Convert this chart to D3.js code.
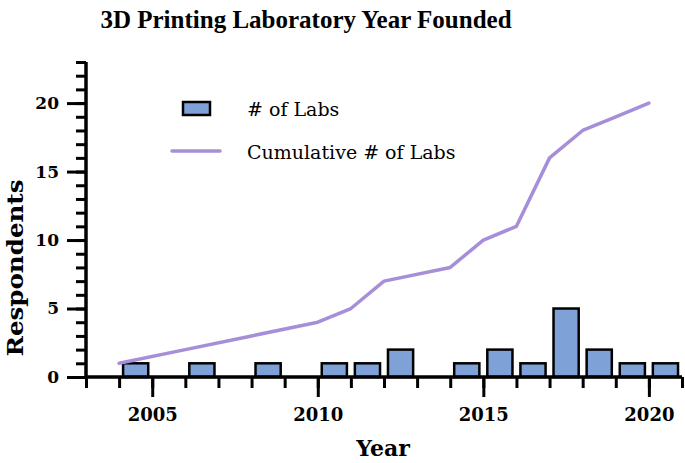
<!DOCTYPE html>
<html>
<head>
<meta charset="utf-8">
<script src="https://cdn.jsdelivr.net/npm/d3@7/dist/d3.min.js"></script>
<style>
  html, body { margin: 0; padding: 0; background: #fff; }
  svg { display: block; }
</style>
</head>
<body>
<svg id="chart" width="685" height="463"></svg>
<script>
// ---- data ----
const years = [2004, 2006, 2008, 2010, 2011, 2012, 2014, 2015, 2016, 2017, 2018, 2019, 2020];
const labs = [1, 1, 1, 1, 1, 2, 1, 2, 1, 5, 2, 1, 1];
const cumulative = [1, 2, 3, 4, 5, 7, 8, 10, 11, 16, 18, 19, 20];
const xTickLabels = [2005, 2010, 2015, 2020];
const yTickLabels = [0, 5, 10, 15, 20];
const title = "3D Printing Laboratory Year Founded";
const seriesNames = ["# of Labs", "Cumulative # of Labs"];

// ---- layout ----
const svg = d3.select("#chart");
const serif = "'Liberation Serif', 'Times New Roman', serif";
const wide = "'DejaVu Serif', serif";
const barFill = "#7ea2d8";
const lineColor = "#a68fd8";

const x = d3.scaleLinear().domain([2003, 2021]).range([86, 682]);
const y = d3.scaleLinear().domain([0, 23]).range([377, 62]);

// bars (span year .. year+1, inset)
svg.append("g").selectAll("rect").data(years).join("rect")
  .attr("x", (d) => x(d + 0.12))
  .attr("width", (d) => x(d + 0.88) - x(d + 0.12))
  .attr("y", (d, i) => y(labs[i]))
  .attr("height", (d, i) => y(0) - y(labs[i]))
  .attr("fill", barFill)
  .attr("stroke", "#000")
  .attr("stroke-width", 2.5);

// cumulative line
const line = d3.line().x((d) => x(d)).y((d, i) => y(cumulative[i]));
svg.append("path").datum(years)
  .attr("d", line)
  .attr("fill", "none")
  .attr("stroke", lineColor)
  .attr("stroke-width", 3.5)
  .attr("stroke-linejoin", "round")
  .attr("stroke-linecap", "round");

// x axis: minor ticks every year, major every 5
const xAxisG = svg.append("g").attr("transform", `translate(0,${y(0)})`);
xAxisG.call(d3.axisBottom(x).tickValues(d3.range(2003, 2022)).tickSize(11).tickFormat(""));
const xMajor = svg.append("g").attr("transform", `translate(0,${y(0)})`);
xMajor.call(d3.axisBottom(x).tickValues(xTickLabels).tickSize(20).tickPadding(11).tickFormat(d3.format("d")));
[xAxisG, xMajor].forEach((g) => {
  g.selectAll("line").attr("stroke", "#000").attr("stroke-width", 3);
  g.select(".domain").attr("stroke", "#000").attr("stroke-width", 3.5);
});
xMajor.select(".domain").remove();
xMajor.selectAll("text").attr("font-family", wide).attr("font-weight", "bold")
  .attr("font-size", 18).attr("fill", "#000");

// y axis
const yAxisG = svg.append("g").attr("transform", `translate(${x(2003)},0)`);
yAxisG.call(d3.axisLeft(y).tickValues(d3.range(0, 24)).tickSize(10).tickFormat(""));
const yMajor = svg.append("g").attr("transform", `translate(${x(2003)},0)`);
yMajor.call(d3.axisLeft(y).tickValues(yTickLabels).tickSize(19).tickPadding(8).tickFormat(d3.format("d")));
[yAxisG, yMajor].forEach((g) => {
  g.selectAll("line").attr("stroke", "#000").attr("stroke-width", 3);
  g.select(".domain").attr("stroke", "#000").attr("stroke-width", 3.5);
});
yMajor.select(".domain").remove();
yAxisG.select(".domain").attr("d", `M0,${y(23)}V${y(0)}`);
xAxisG.select(".domain").attr("d", `M${x(2003)},0H${x(2021)}`);
yMajor.selectAll("text").attr("font-family", wide).attr("font-weight", "bold")
  .attr("font-size", 17).attr("fill", "#000");

// title and axis labels
svg.append("text").attr("x", 306).attr("y", 28).attr("text-anchor", "middle")
  .attr("font-family", serif).attr("font-weight", "bold").attr("font-size", 25)
  .text(title);
svg.append("text").attr("x", 383).attr("y", 456).attr("text-anchor", "middle")
  .attr("font-family", wide).attr("font-weight", "bold").attr("font-size", 22)
  .text("Year");
svg.append("text").attr("transform", "translate(23,268) rotate(-90)").attr("text-anchor", "middle")
  .attr("font-family", wide).attr("font-weight", "bold").attr("font-size", 22)
  .attr("textLength", 177).attr("lengthAdjust", "spacingAndGlyphs")
  .text("Respondents");

// legend
const lg = svg.append("g");
lg.append("rect").attr("x", 183).attr("y", 102).attr("width", 27).attr("height", 13)
  .attr("fill", barFill).attr("stroke", "#000").attr("stroke-width", 2.5);
lg.append("line").attr("x1", 172).attr("x2", 220).attr("y1", 151).attr("y2", 151)
  .attr("stroke", lineColor).attr("stroke-width", 3.5).attr("stroke-linecap", "round");
lg.selectAll("text.leg").data(seriesNames).join("text").attr("class", "leg")
  .attr("x", 247).attr("y", (d, i) => 116 + i * 43)
  .attr("font-family", wide).attr("font-size", 19).attr("fill", "#000")
  .text((d) => d);
</script>
</body>
</html>
